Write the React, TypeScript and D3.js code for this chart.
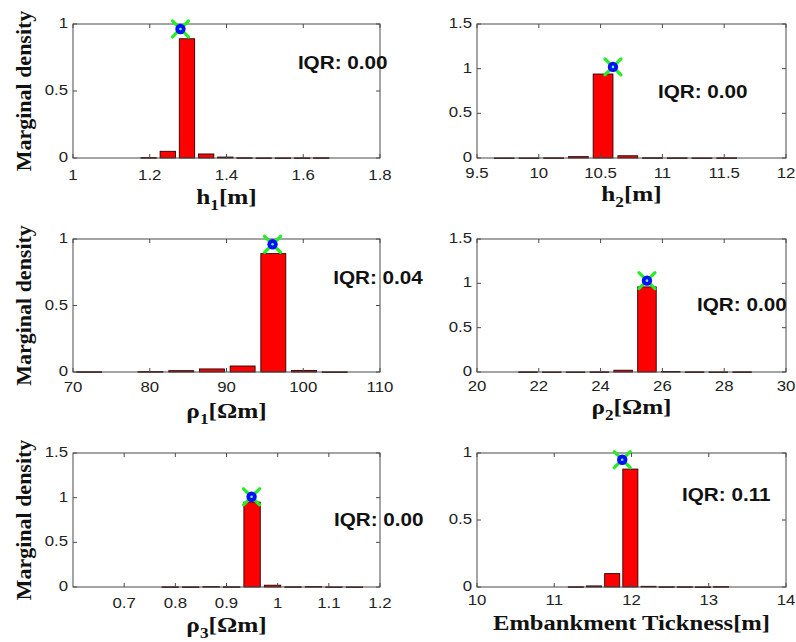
import React from "react";
import * as d3 from "d3";

// ---- data ----
const h1Centers = [1.097, 1.147, 1.197, 1.247, 1.297, 1.347, 1.397, 1.447, 1.497, 1.547, 1.597, 1.647, 1.697, 1.747];
const h1Density = [0, 0, 0.003, 0.05, 0.89, 0.03, 0.007, 0.002, 0.001, 0.001, 0.001, 0.002, 0, 0];

const h2Centers = [9.72, 9.92, 10.12, 10.32, 10.52, 10.72, 10.92, 11.12, 11.32, 11.52, 11.72];
const h2Density = [0.001, 0.001, 0.002, 0.015, 0.94, 0.025, 0.003, 0.002, 0.001, 0.002, 0];

const rho1Centers = [72.1, 76.1, 80.1, 84.1, 88.1, 92.1, 96.1, 100.1, 104.1, 108.1];
const rho1Density = [0.002, 0, 0.003, 0.01, 0.023, 0.045, 0.89, 0.012, 0.001, 0];

const rho2Centers = [21.65, 22.42, 23.19, 23.96, 24.73, 25.5, 26.27, 27.04, 27.81, 28.58];
const rho2Density = [0.002, 0.001, 0.001, 0.002, 0.02, 0.96, 0.006, 0.002, 0.001, 0.002];

const rho3Centers = [0.71, 0.75, 0.79, 0.83, 0.87, 0.91, 0.95, 0.99, 1.03, 1.07, 1.11, 1.15];
const rho3Density = [0, 0, 0.002, 0.002, 0.005, 0.003, 0.95, 0.02, 0.003, 0.005, 0.001, 0.001];

const embCenters = [11.28, 11.515, 11.75, 11.985, 12.22, 12.455, 12.69, 12.925, 13.16];
const embDensity = [0.002, 0.008, 0.1, 0.88, 0.005, 0.002, 0.002, 0.001, 0.003];

const barWidths = [0.04, 0.16, 3.25, 0.6, 0.032, 0.195];
const xDomains = [[1, 1.8], [9.5, 12], [70, 110], [20, 30], [0.6, 1.2], [10, 14]];
const xTickValues = [
  [1, 1.2, 1.4, 1.6, 1.8],
  [9.5, 10, 10.5, 11, 11.5, 12],
  [70, 80, 90, 100, 110],
  [20, 22, 24, 26, 28, 30],
  [0.7, 0.8, 0.9, 1, 1.1, 1.2],
  [10, 11, 12, 13, 14],
];
const yDomains = [[0, 1], [0, 1.5], [0, 1], [0, 1.5], [0, 1.5], [0, 1]];
const yTickValues = [
  [0, 0.5, 1],
  [0, 0.5, 1, 1.5],
  [0, 0.5, 1],
  [0, 0.5, 1, 1.5],
  [0, 0.5, 1, 1.5],
  [0, 0.5, 1],
];
const modePoints = [[1.28, 0.963], [10.6, 1.02], [96.0, 0.96], [25.5, 1.03], [0.949, 1.01], [11.88, 0.95]];
const iqrLabels = ["IQR: 0.00", "IQR: 0.00", "IQR: 0.04", "IQR: 0.00", "IQR: 0.00", "IQR: 0.11"];
const iqrAnchors = [[1.586, 0.71], [10.964, 0.739], [103.9, 0.707], [27.12, 0.756], [1.11, 0.75], [12.654, 0.687]];
const xLabelMain = ["h", "h", "ρ", "ρ", "ρ", "Embankment Tickness[m]"];
const xLabelSub = ["1", "2", "1", "2", "3", ""];
const xLabelUnit = ["[m]", "[m]", "[Ωm]", "[Ωm]", "[Ωm]", ""];
const yLabelText = "Marginal density";

const allCenters = [h1Centers, h2Centers, rho1Centers, rho2Centers, rho3Centers, embCenters];
const allDensity = [h1Density, h2Density, rho1Density, rho2Density, rho3Density, embDensity];

// ---- layout ----
const W = 796;
const H = 642;
const colX = [[73, 380], [477, 786]];
const rowY = [[24, 158], [239, 372], [453, 587]];
const xTickOffset = [22, 20, 20, 19, 21, 18];
const xLabelOffset = [46, 43, 46, 42, 45, 43];
const xLabelSize = [22, 21, 22, 21, 22, 20.5];
const xLabelStretch = [1.15, 1.2, 1.15, 1.2, 1.15, 1.2];
const SANS = "'Liberation Sans', Arial, Helvetica, sans-serif";
const SERIF = "'Liberation Serif', 'Times New Roman', serif";

function Panel({ i }: { i: number }) {
  const col = i % 2;
  const row = Math.floor(i / 2);
  const [x0, x1] = colX[col];
  const [y0, y1] = rowY[row];
  const x = d3.scaleLinear().domain(xDomains[i]).range([x0, x1]);
  const y = d3.scaleLinear().domain(yDomains[i]).range([y1, y0]);
  const centers = allCenters[i];
  const dens = allDensity[i];
  const bw = barWidths[i];
  const [mx, my] = modePoints[i];
  const [ix, iy] = iqrAnchors[i];
  const tickLen = 4;
  const axisColor = "#4a4a4a";
  const xLabBase = y1 + xLabelOffset[i];
  const cx = (x0 + x1) / 2;
  const subSize = xLabelSize[i] * 0.68;

  return (
    <g>
      {/* bars */}
      {centers.map((c, k) => {
        const v = dens[k];
        if (v <= 0) return null;
        const left = x(c - bw / 2);
        const right = x(c + bw / 2);
        const top = y(v);
        return (
          <rect
            key={k}
            x={left}
            y={top}
            width={right - left}
            height={Math.max(y1 - top, 0.6)}
            fill="#ff0000"
            stroke="#2a0000"
            strokeWidth={0.9}
          />
        );
      })}
      {/* box */}
      <rect x={x0} y={y0} width={x1 - x0} height={y1 - y0} fill="none" stroke={axisColor} strokeWidth={1} />
      {/* x ticks */}
      {xTickValues[i].map((t) => (
        <g key={"xt" + t}>
          <line x1={x(t)} x2={x(t)} y1={y1} y2={y1 - tickLen} stroke={axisColor} />
          <line x1={x(t)} x2={x(t)} y1={y0} y2={y0 + tickLen} stroke={axisColor} />
          <text
            transform={`translate(${x(t)},${y1 + xTickOffset[i]}) scale(1.2,1)`}
            textAnchor="middle"
            fontFamily={SANS}
            fontSize={14}
            fill="#222"
          >
            {String(t)}
          </text>
        </g>
      ))}
      {/* y ticks */}
      {yTickValues[i].map((t) => (
        <g key={"yt" + t}>
          <line x1={x0} x2={x0 + tickLen} y1={y(t)} y2={y(t)} stroke={axisColor} />
          <line x1={x1} x2={x1 - tickLen} y1={y(t)} y2={y(t)} stroke={axisColor} />
          <text
            transform={`translate(${x0 - 5},${y(t) + 4}) scale(1.2,1)`}
            textAnchor="end"
            fontFamily={SANS}
            fontSize={14}
            fill="#222"
          >
            {String(t)}
          </text>
        </g>
      ))}
      {/* mode marker */}
      <g transform={`translate(${x(mx)},${y(my)})`}>
        <line x1={-8} y1={-8} x2={8} y2={8} stroke="#22ee22" strokeWidth={3.2} strokeLinecap="round" />
        <line x1={-8} y1={8} x2={8} y2={-8} stroke="#22ee22" strokeWidth={3.2} strokeLinecap="round" />
        <circle r={5.2} fill="#0010ff" />
        <circle r={1.3} fill="#66ff88" />
      </g>
      {/* IQR */}
      <text
        transform={`translate(${x(ix)},${y(iy) + 6}) scale(1.15,1)`}
        fontFamily={SANS}
        fontWeight="bold"
        fontSize={18}
        fill="#111"
      >
        {iqrLabels[i]}
      </text>
      {/* x label */}
      <text
        transform={`translate(${cx},${xLabBase}) scale(${xLabelStretch[i]},1)`}
        textAnchor="middle"
        fontFamily={SERIF}
        fontWeight="bold"
        fontSize={xLabelSize[i]}
        fill="#111"
      >
        {xLabelSub[i] ? (
          <>
            {xLabelMain[i]}
            <tspan fontSize={subSize} dy={6}>
              {xLabelSub[i]}
            </tspan>
            <tspan dy={-6}>{xLabelUnit[i]}</tspan>
          </>
        ) : (
          xLabelMain[i]
        )}
      </text>
      {/* y label */}
      {col === 0 ? (
        <text
          transform={`translate(31,${(y0 + y1) / 2}) rotate(-90)`}
          textAnchor="middle"
          fontFamily={SERIF}
          fontWeight="bold"
          fontSize={22}
          fill="#111"
        >
          {yLabelText}
        </text>
      ) : null}
    </g>
  );
}

export default function App() {
  return (
    <svg
      width={W}
      height={H}
      viewBox={`0 0 ${W} ${H}`}
      style={{ position: "absolute", left: 0, top: 0, background: "#fff", display: "block" }}
    >
      <rect width={W} height={H} fill="#fff" />
      {[0, 1, 2, 3, 4, 5].map((i) => (
        <Panel key={i} i={i} />
      ))}
    </svg>
  );
}
